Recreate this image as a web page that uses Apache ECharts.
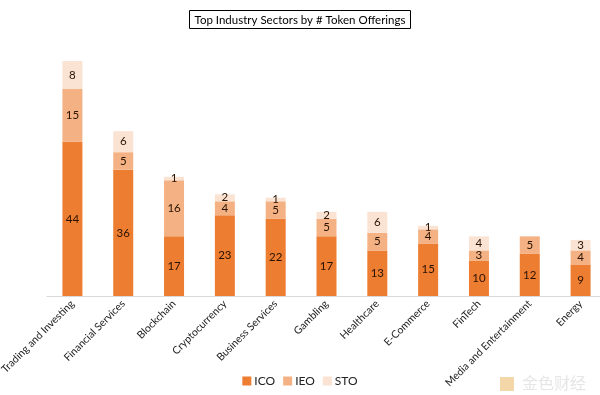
<!DOCTYPE html>
<html><head><meta charset="utf-8">
<script src="https://cdn.jsdelivr.net/npm/echarts@6/dist/echarts.min.js"></script>
<style>html,body{margin:0;padding:0;background:#fff}#c{width:600px;height:395px}</style>
</head><body><div id="c"></div>
<script>
const categories = ["Trading and Investing","Financial Services","Blockchain","Cryptocurrency","Business Services","Gambling","Healthcare","E-Commerce","FinTech","Media and Entertainment","Energy"];
const ico = [44,36,17,23,22,17,13,15,10,12,9];
const ieo = [15,5,16,4,5,5,5,4,3,5,4];
const sto = [8,6,1,2,1,2,6,1,4,0,3];

const FONT = 'Lato, "Open Sans", sans-serif';
const chart = echarts.init(document.getElementById('c'), null, {renderer:'canvas'});
const lbl = {show:true, position:'inside', color:'#2a1200', fontSize:11.5, fontFamily:FONT,
  formatter: p => p.value ? String(p.value) : ''};
function ser(name, data, color){
  return {name, type:'bar', stack:'t', data, barWidth:20, itemStyle:{color}, label:lbl,
    emphasis:{disabled:true}};
}
chart.setOption({
  animation:false,
  title:{text:'Top Industry Sectors by # Token Offerings', left:'center', top:10,
    borderColor:'#000', borderWidth:1, padding:[4,5,3,5],
    textStyle:{fontSize:11.5, fontWeight:'normal', color:'#000', fontFamily:FONT}},
  legend:{bottom:3, left:'center', itemWidth:9, itemHeight:9, itemGap:8, icon:'rect',
    textStyle:{fontSize:12, color:'#222', fontFamily:FONT, padding:[0,0,0,-2]}},
  grid:{left:47, right:-6, top:61, bottom:99, containLabel:false, outerBoundsMode:'none'},
  xAxis:{type:'category', data:categories,
    axisLine:{lineStyle:{color:'#d9d9d9'}}, axisTick:{show:false},
    axisLabel:{rotate:45, interval:0, fontSize:10.5, color:'#222', fontFamily:FONT, margin:6,
      padding:[0,0,0,0]}},
  yAxis:{type:'value', min:0, max:67, show:false, splitLine:{show:false}},
  series:[ser('ICO', ico, '#ED7D31'), ser('IEO', ieo, '#F4B183'), ser('STO', sto, '#FBE3D4')],
  graphic:[
    {type:'rect', left:500, top:377, shape:{width:14,height:14}, style:{fill:'#F3D7A8'}},
    {type:'text', left:522, top:375, style:{text:'金色财经', fontSize:16, fill:'#e6e6e6', fontFamily:'"Noto Sans CJK SC"'}}
  ]
});
</script></body></html>
